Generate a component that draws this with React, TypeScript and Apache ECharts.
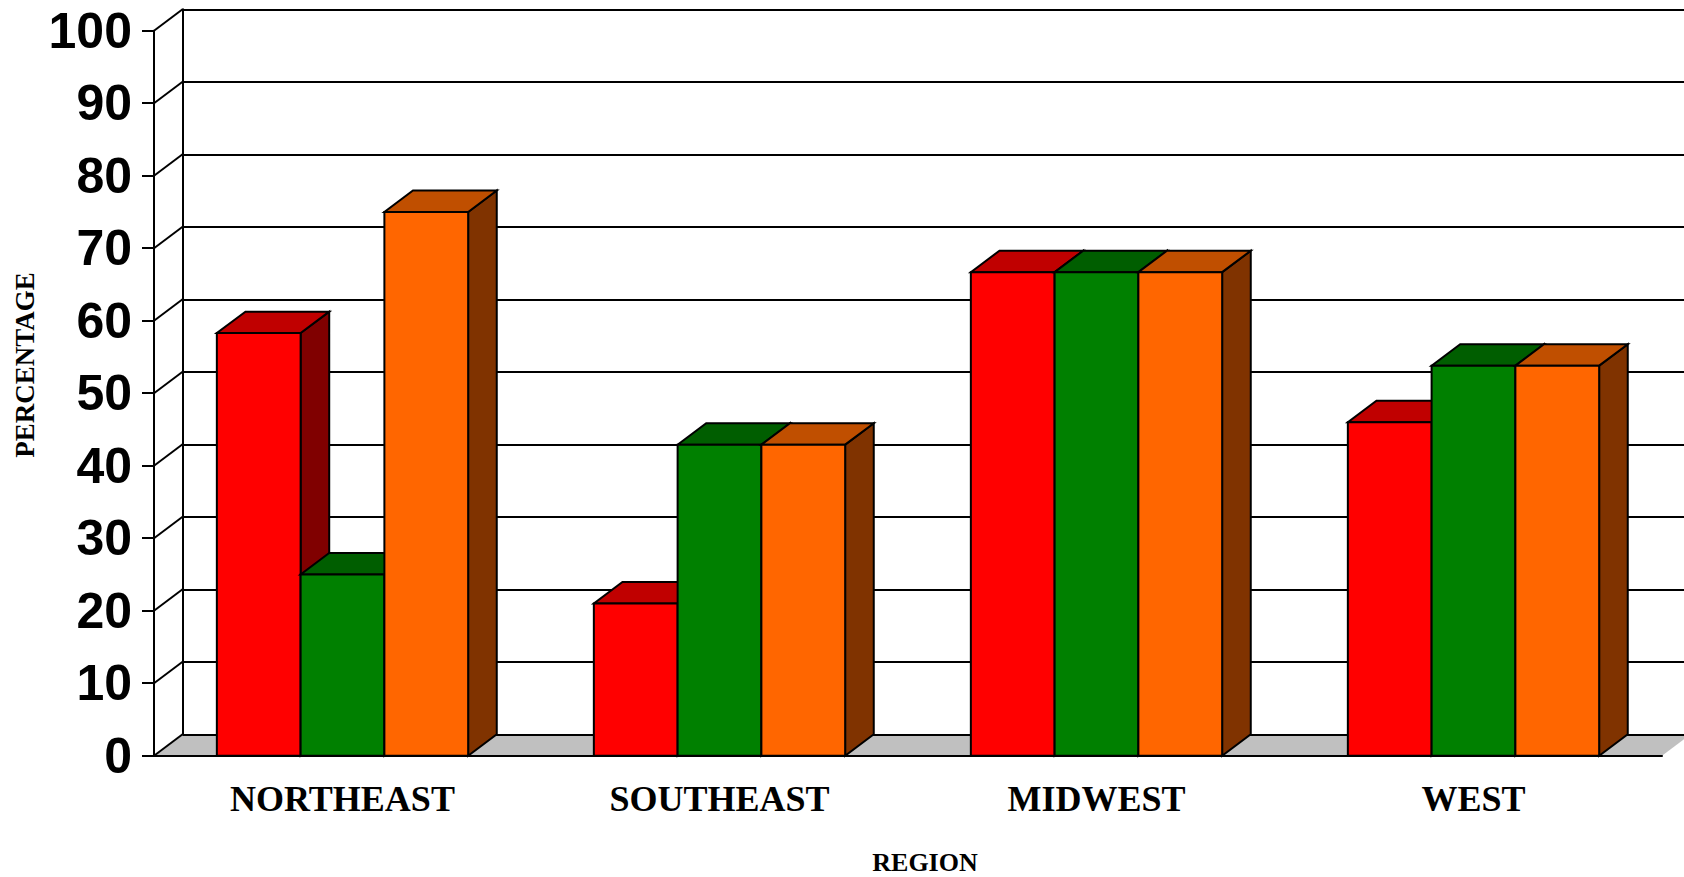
import React, { useEffect, useRef } from "react";
import * as echarts from "echarts";

const categories = ["NORTHEAST", "SOUTHEAST", "MIDWEST", "WEST"];
const redValues = [58.3, 21, 66.7, 46];
const greenValues = [25, 42.9, 66.7, 53.8];
const orangeValues = [75, 42.9, 66.7, 53.8];
const yTicks = [0, 10, 20, 30, 40, 50, 60, 70, 80, 90, 100];

const seriesDefs = [
  { name: "Series 1", values: redValues, face: "#FF0000", top: "#C00000", side: "#800000" },
  { name: "Series 2", values: greenValues, face: "#008000", top: "#005E00", side: "#004000" },
  { name: "Series 3", values: orangeValues, face: "#FF6600", top: "#C04F00", side: "#803300" },
];

const DX = 28.6;
const DY = 21.4;
const BAR_FRAC = 0.2222;
const LINE = { color: "#000", width: 2 };

export default function App() {
  const ref = useRef<HTMLDivElement>(null);
  useEffect(() => {
    const chart = echarts.init(ref.current!, null, { renderer: "svg" });
    const stroke = { stroke: "#000", lineWidth: 2, lineJoin: "miter" };
    const barSeries = seriesDefs.map((s, k) => ({
      type: "custom",
      name: s.name,
      xAxisIndex: 0,
      yAxisIndex: 0,
      encode: { x: 0, y: 1 },
      data: s.values.map((v, i) => [i, v]),
      renderItem: (params: any, api: any) => {
        const ci = api.value(0);
        const v = api.value(1);
        const p = api.coord([ci, v]);
        const b = api.coord([ci, 0]);
        const band = api.size([1, 0])[0];
        const bw = band * BAR_FRAC;
        const l = p[0] - 1.5 * bw + k * bw;
        const r = l + bw;
        const t = p[1];
        const bo = b[1];
        return {
          type: "group",
          children: [
            {
              type: "polygon",
              shape: { points: [[r, t], [r + DX, t - DY], [r + DX, bo - DY], [r, bo]] },
              style: { fill: s.side, ...stroke },
            },
            {
              type: "polygon",
              shape: { points: [[l, t], [r, t], [r + DX, t - DY], [l + DX, t - DY]] },
              style: { fill: s.top, ...stroke },
            },
            {
              type: "rect",
              shape: { x: l, y: t, width: bw, height: bo - t },
              style: { fill: s.face, ...stroke },
            },
          ],
        };
      },
    }));

    const option: any = {
      animation: false,
      grid: [
        { left: 154, right: 22, top: 30.7, bottom: 121.3 },
        { left: 182.6, right: -7, top: 9.3, bottom: 142.7 },
      ],
      xAxis: [
        {
          type: "category",
          gridIndex: 0,
          data: categories,
          axisLine: { lineStyle: LINE },
          axisTick: { length: 12, lineStyle: LINE },
          axisLabel: {
            color: "#000",
            fontSize: 36,
            fontWeight: "bold",
            fontFamily: "'Liberation Serif', 'Times New Roman', serif",
            margin: 25,
          },
        },
        { type: "value", gridIndex: 1, show: false, min: 0, max: 1 },
      ],
      yAxis: [
        {
          type: "value",
          gridIndex: 0,
          min: 0,
          max: 100,
          interval: 10,
          axisLine: { show: true, lineStyle: LINE },
          axisTick: { show: true, length: 12, lineStyle: LINE },
          splitLine: { show: false },
          axisLabel: {
            color: "#000",
            fontSize: 50,
            fontWeight: "bold",
            fontFamily: "'Liberation Sans', Arial, sans-serif",
            margin: 22,
          },
        },
        {
          type: "value",
          gridIndex: 1,
          min: 0,
          max: 100,
          interval: 10,
          axisLine: { show: true, lineStyle: LINE },
          axisTick: { show: false },
          axisLabel: { show: false },
          splitLine: { show: true, lineStyle: LINE },
        },
      ],
      graphic: [
        {
          type: "text",
          x: 25,
          y: 365,
          rotation: Math.PI / 2,
          style: {
            text: "PERCENTAGE",
            font: "bold 27px 'Liberation Serif', 'Times New Roman', serif",
            fill: "#000",
            align: "center",
            verticalAlign: "middle",
          },
        },
        {
          type: "text",
          x: 925,
          y: 862,
          style: {
            text: "REGION",
            font: "bold 26px 'Liberation Serif', 'Times New Roman', serif",
            fill: "#000",
            align: "center",
            verticalAlign: "middle",
          },
        },
      ],
      series: [
        {
          type: "custom",
          name: "floor",
          z: -1,
          xAxisIndex: 0,
          yAxisIndex: 0,
          data: [[0, 0]],
          silent: true,
          renderItem: (params: any) => {
            const cs = params.coordSys;
            const x0 = cs.x;
            const x1 = cs.x + cs.width;
            const y = cs.y + cs.height;
            return {
              type: "polygon",
              shape: { points: [[x0, y], [x1, y], [x1 + DX, y - DY], [x0 + DX, y - DY]] },
              style: { fill: "#C0C0C0" },
            };
          },
        },
        {
          type: "custom",
          name: "depth",
          xAxisIndex: 0,
          yAxisIndex: 0,
          silent: true,
          data: yTicks.map((v) => [0, v]),
          renderItem: (params: any, api: any) => {
            const x = params.coordSys.x;
            const y = api.coord([0, api.value(1)])[1];
            return {
              type: "line",
              shape: { x1: x, y1: y, x2: x + DX, y2: y - DY },
              style: { stroke: "#000", lineWidth: 2 },
            };
          },
        },
        ...barSeries,
      ],
    };
    chart.setOption(option);
    return () => chart.dispose();
  }, []);
  return (
    <div
      ref={ref}
      style={{ position: "fixed", left: 0, top: 0, width: 1684, height: 877, background: "#fff" }}
    />
  );
}
